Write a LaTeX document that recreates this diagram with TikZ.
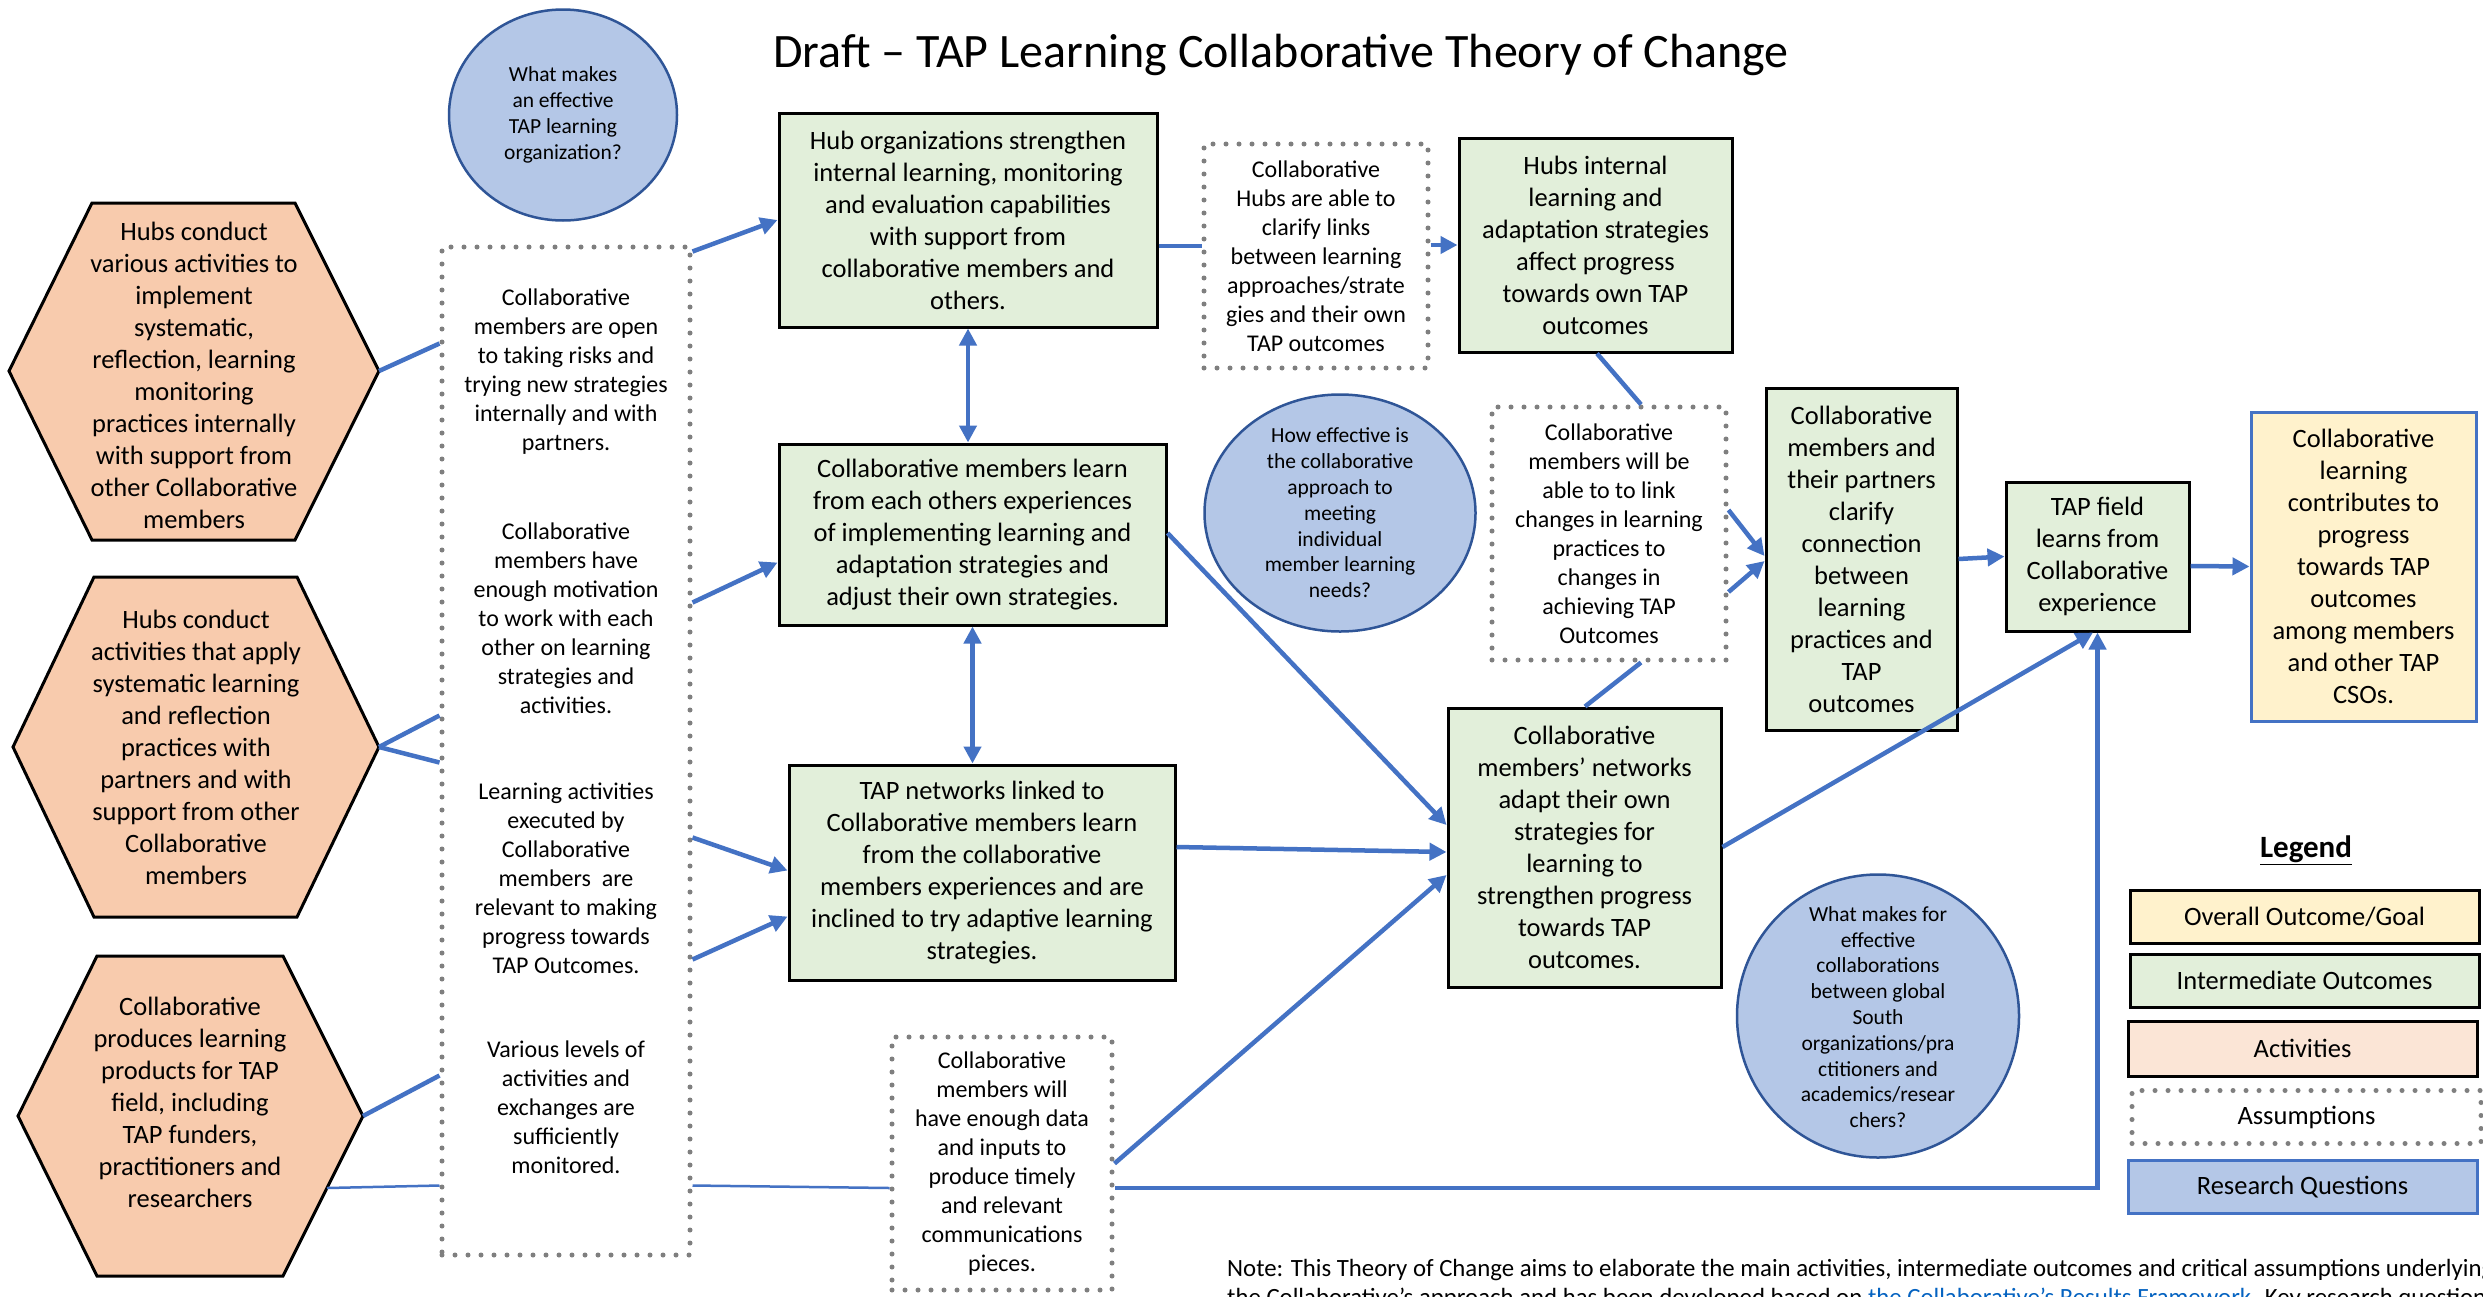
\documentclass[tikz,border=0pt]{standalone}
\usepackage{fontspec}
\setmainfont{Carlito}
\usetikzlibrary{arrows.meta,calc,shapes.geometric}
\definecolor{greenfill}{HTML}{E2EFDA}
\definecolor{hexfill}{HTML}{F8CBAD}
\definecolor{actfill}{HTML}{FBE5D6}
\definecolor{yelfill}{HTML}{FFF2CC}
\definecolor{qfill}{HTML}{B4C7E7}
\definecolor{qdraw}{HTML}{2F5597}
\definecolor{conblue}{HTML}{4472C4}
\definecolor{dotgray}{HTML}{7F7F7F}
\definecolor{linkblue}{HTML}{0563C1}
\newcommand{\fsz}[2]{\fontsize{#1}{#2}\selectfont}
\begin{document}
\begin{tikzpicture}[x=1pt,y=-1pt,
  outcome/.style={draw=black,line width=3pt,fill=greenfill,inner sep=0pt,align=center,font=\fsz{26.5}{32}},
  goal/.style={draw=conblue,line width=3pt,fill=yelfill,inner sep=0pt,align=center,font=\fsz{26.5}{32}},
  dotbox/.style={draw=dotgray,line width=5pt,dash pattern=on 0pt off 13pt,line cap=round,inner sep=0pt,align=center,font=\fsz{24}{29}},
  asmtext/.style={inner sep=0pt,align=center,font=\fsz{24}{29}},
  hexshape/.style={draw=black,line width=3pt,fill=hexfill,line join=miter},
  hextext/.style={inner sep=0pt,align=center,font=\fsz{26.5}{32}},
  question/.style={ellipse,draw=qdraw,line width=2.5pt,fill=qfill,inner sep=0pt},
  qtext/.style={inner sep=0pt,align=center,font=\fsz{21.5}{25.8}},
  legbox/.style={line width=3pt,inner sep=0pt,minimum width=349pt,minimum height=53pt,font=\fsz{26.5}{32}},
  conn/.style={draw=conblue,line width=4.5pt},
  thin/.style={draw=conblue,line width=2.5pt},
  arr/.style={conn,-{Triangle[length=17pt,width=17pt]}},
  darr/.style={conn,{Triangle[length=17pt,width=17pt]}-{Triangle[length=17pt,width=17pt]}}
]
\useasboundingbox[fill=white] (0,0) rectangle (2483,1296);

% title
\node[anchor=base,font=\fsz{48}{56}] (title) at (1281,67) {Draft – TAP Learning Collaborative Theory of Change};

% hexagons (activities)
\draw[hexshape] (9,371) -- (92,203) -- (295,203) -- (379,371) -- (295,540) -- (92,540) -- cycle;
\coordinate (h1e) at (379,371);
\node[hextext] (h1) at (194,375) {Hubs conduct\\various activities to\\implement\\systematic,\\reflection, learning\\monitoring\\practices internally\\with support from\\other Collaborative\\members};

\draw[hexshape] (13,747) -- (94,577) -- (297,577) -- (379,747) -- (297,917) -- (94,917) -- cycle;
\coordinate (h2e) at (379,747);
\node[hextext] (h2) at (196,747) {Hubs conduct\\activities that apply\\systematic learning\\and reflection\\practices with\\partners and with\\support from other\\Collaborative\\members};

\draw[hexshape] (18,1116) -- (97,956) -- (283,956) -- (363,1116) -- (283,1276) -- (97,1276) -- cycle;
\coordinate (h3e) at (363,1116);
\coordinate (h3b) at (327,1188);
\node[hextext] (h3) at (190,1102) {Collaborative\\produces learning\\products for TAP\\field, including\\TAP funders,\\practitioners and\\researchers};

% big assumptions box
\node[dotbox,minimum width=248pt,minimum height=1008pt] (asm) at (566,751) {};
\node[asmtext] (t1) at (566,371.5) {Collaborative\\members are open\\to taking risks and\\trying new strategies\\internally and with\\partners.};
\node[asmtext] (t2) at (566,618) {Collaborative\\members have\\enough motivation\\to work with each\\other on learning\\strategies and\\activities.};
\node[asmtext] (t3) at (566,878) {Learning activities\\executed by\\Collaborative\\members\ \ are\\relevant to making\\progress towards\\TAP Outcomes.};
\node[asmtext] (t4) at (566,1107) {Various levels of\\activities and\\exchanges are\\sufficiently\\monitored.};

% research questions
\node[question,minimum width=228pt,minimum height=211pt] (q1) at (563,115) {};
\node[qtext] (q1t) at (q1) {What makes\\an effective\\TAP learning\\organization?};
\node[question,minimum width=271pt,minimum height=237pt] (q2) at (1340,513) {};
\node[qtext] (q2t) at (q2) {How effective is\\the collaborative\\approach to\\meeting\\individual\\member learning\\needs?};
\node[question,minimum width=282pt,minimum height=283pt] (q3) at (1878,1016) {};
\node[qtext] (q3t) at (1878,1017) {What makes for\\effective\\collaborations\\between global\\South\\organizations/pra\\ctitioners and\\academics/resear\\chers?};

% outcomes
\node[outcome,minimum width=378pt,minimum height=214pt] (A) at (968,220) {Hub organizations strengthen\\internal learning, monitoring\\and evaluation capabilities\\with support from\\collaborative members and\\others.};
\node[dotbox,minimum width=224pt,minimum height=224pt] (B) at (1316,256) {Collaborative\\Hubs are able to\\clarify links\\between learning\\approaches/strate\\gies and their own\\TAP outcomes};
\node[outcome,minimum width=273pt,minimum height=214pt] (C) at (1595.5,245) {Hubs internal\\learning and\\adaptation strategies\\affect progress\\towards own TAP\\outcomes};
\node[dotbox,minimum width=234pt,minimum height=253pt] (D) at (1609,533.5) {Collaborative\\members will be\\able to to link\\changes in learning\\practices to\\changes in\\achieving TAP\\Outcomes};
\node[outcome,minimum width=273pt,minimum height=279pt] (E) at (1584.5,847.5) {Collaborative\\members’ networks\\adapt their own\\strategies for\\learning to\\strengthen progress\\towards TAP\\outcomes.};
\node[outcome,minimum width=191pt,minimum height=342pt] (F) at (1861.5,559) {Collaborative\\members and\\their partners\\clarify\\connection\\between\\learning\\practices and\\TAP\\outcomes};
\node[outcome,minimum width=183pt,minimum height=149pt] (G) at (2097.5,556.5) {TAP field\\learns from\\Collaborative\\experience};
\node[goal,minimum width=225pt,minimum height=309pt] (H) at (2363.5,566.5) {Collaborative\\learning\\contributes to\\progress\\towards TAP\\outcomes\\among members\\and other TAP\\CSOs.};
\node[outcome,minimum width=387pt,minimum height=181pt] (I) at (972.5,534.5) {Collaborative members learn\\from each others experiences\\of implementing learning and\\adaptation strategies and\\adjust their own strategies.};
\node[outcome,minimum width=386pt,minimum height=215pt] (J) at (982,872.5) {TAP networks linked to\\Collaborative members learn\\from the collaborative\\members experiences and are\\inclined to try adaptive learning\\strategies.};
\node[dotbox,minimum width=220pt,minimum height=253pt] (K) at (1002,1163.5) {Collaborative\\members will\\have enough data\\and inputs to\\produce timely\\and relevant\\communications\\pieces.};

% connectors: activities -> assumptions
\draw[conn] (h1e) -- ($(asm.north west)+(0,99)$);
\draw[conn] (h2e) -- ($(asm.north west)+(0,471)$);
\draw[conn] (h2e) -- ($(asm.north west)+(0,518)$);
\draw[conn] (h3e) -- ($(asm.north west)+(0,831)$);
\draw[thin] (h3b) -- ($(asm.north west)+(0,941)$);
\draw[thin] ($(asm.north east)+(0,941)$) -- ($(K.west)+(0,24.5)$);

% assumptions -> outcomes
\draw[arr] ($(asm.north east)+(0,7)$) -- (A.west);
\draw[arr] ($(asm.north east)+(0,358)$) -- ($(I.west)+(0,28)$);
\draw[arr] ($(asm.north east)+(0,593)$) -- ($(J.west)+(0,-2)$);
\draw[arr] ($(asm.north east)+(0,715)$) -- ($(J.west)+(0,44)$);

% middle column
\draw[darr] (A.south) -- (A.south |- I.north);
\draw[darr] (I.south) -- (I.south |- J.north);
\draw[conn] ($(A.east)+(0,26)$) -- ($(B.west)+(0,-10)$);
\draw[arr] ($(B.east)+(0,-11)$) -- (C.west);
\draw[arr] ($(I.east)+(0,-1.5)$) -- ($(E.west)+(0,-22.5)$);
\draw[arr] ($(J.east)+(0,-25.5)$) -- ($(E.west)+(0,4.5)$);
\draw[arr] (K.east) -- ($(E.west)+(0,27.5)$);
\draw[arr] ($(K.east)+(0,24.5)$) -| (G.south);

% right part
\draw[conn] ($(C.south)+(1.5,0)$) -- ($(D.north)+(32,0)$);
\draw[conn] ($(D.south)+(32,0)$) -- ($(E.north)+(0.5,0)$);
\draw[arr] ($(D.east)+(0,-23.5)$) -- ($(F.west)+(0,-3)$);
\draw[arr] ($(D.east)+(0,58.5)$) -- ($(F.west)+(0,2)$);
\draw[arr] (F.east) -- (G.west);
\draw[arr] ($(G.east)+(0,9.5)$) -- (H.west);
\draw[arr] ($(E.east)+(0,-0.5)$) -- ($(G.south)+(-4.5,0)$);

% legend
\node[font=\bfseries\fsz{31}{36}] (legt) at (2306,850) {\underline{Legend}};
\node[legbox,draw=black,fill=yelfill] (L1) at (2304.5,916.5) {Overall Outcome/Goal};
\node[legbox,draw=black,fill=greenfill] (L2) at (2304.5,980.5) {Intermediate Outcomes};
\node[legbox,draw=black,fill=actfill,minimum height=55pt] (L3) at (2302.5,1048.5) {Activities};
\node[legbox,draw=dotgray,line width=5pt,dash pattern=on 0pt off 13pt,line cap=round] (L4) at (2306.5,1117) {Assumptions};
\node[legbox,draw=conblue,fill=qfill] (L5) at (2302.5,1187) {Research Questions};

% note
\node[anchor=base west,inner sep=0pt,font=\fsz{24.8}{30}] (note1) at (1227,1276) {Note: This Theory of Change aims to elaborate the main activities, intermediate outcomes and critical assumptions underlying};
\node[anchor=base west,inner sep=0pt,font=\fsz{24.8}{30}] (note2) at (1227,1305) {the Collaborative’s approach and has been developed based on \textcolor{linkblue}{the Collaborative’s Results Framework}. Key research questions};
\end{tikzpicture}
\end{document}
